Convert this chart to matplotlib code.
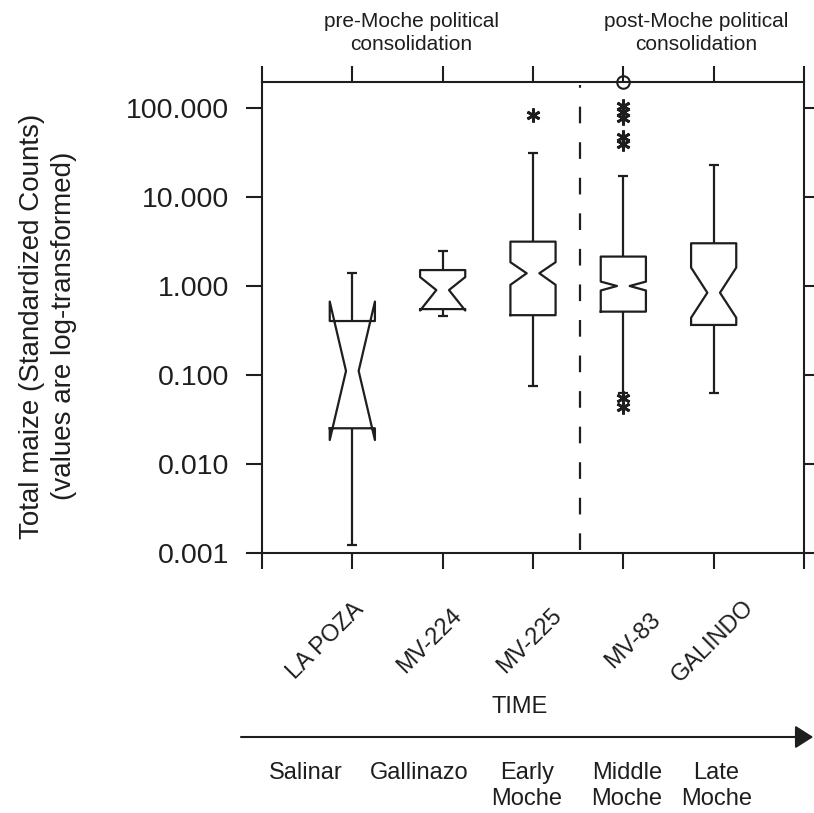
import matplotlib
matplotlib.use("Agg")
import matplotlib.pyplot as plt
import matplotlib.transforms as mtransforms
from matplotlib.patches import FancyArrowPatch
from matplotlib.ticker import FixedLocator, NullLocator

plt.rcParams['font.family'] = ['Liberation Sans', 'DejaVu Sans']

# box statistics (log-scaled counts)
sites = ["LA POZA", "MV-224", "MV-225", "MV-83", "GALINDO"]
periods = ["Salinar", "Gallinazo", "Early\nMoche", "Middle\nMoche", "Late\nMoche"]
whislo = [0.00123, 0.46, 0.076, 0.062, 0.062]
q1 = [0.0252, 0.55, 0.47, 0.515, 0.365]
med = [0.111, 0.90, 1.39, 1.0, 0.84]
q3 = [0.404, 1.51, 3.15, 2.14, 3.02]
whishi = [1.39, 2.45, 31.0, 17.0, 22.9]
cilo = [0.0186, 0.53, 1.03, 0.89, 0.44]
cihi = [0.668, 1.26, 1.85, 1.12, 1.61]
outliers = [[], [], [83.0], [104.0, 90.0, 77.0, 47.0, 39.0, 0.055, 0.044], []]
far_outliers = [[], [], [], [196.0], []]
ytick_vals = [0.001, 0.01, 0.1, 1, 10, 100]
split_at = 3.52

ink = '#1e1e1e'
lw = 1.6

fig = plt.figure(figsize=(8.14, 8.13), dpi=100)
ax = fig.add_axes([262/814, 1 - 553/813, (804 - 262)/814, (553 - 82)/813])

half_w = 0.25
waist = 0.07
cap = 0.055
for i, x in enumerate(range(1, len(sites) + 1)):
    bx = [x - half_w, x + half_w, x + half_w, x + waist, x + half_w, x + half_w,
          x - half_w, x - half_w, x - waist, x - half_w, x - half_w]
    by = [q1[i], q1[i], cilo[i], med[i], cihi[i], q3[i],
          q3[i], cihi[i], med[i], cilo[i], q1[i]]
    ax.plot(bx, by, color=ink, lw=lw)
    ax.vlines(x, q3[i], whishi[i], color=ink, lw=lw)
    ax.vlines(x, whislo[i], q1[i], color=ink, lw=lw)
    ax.hlines([whislo[i], whishi[i]], x - cap, x + cap, color=ink, lw=lw)
    if outliers[i]:
        ax.plot([x] * len(outliers[i]), outliers[i], ls='none', marker=(6, 2, 0),
                ms=10, mew=2, color=ink)
    if far_outliers[i]:
        ax.plot([x] * len(far_outliers[i]), far_outliers[i], ls='none', marker='o',
                ms=9, mew=1.5, mfc='none', mec=ink, clip_on=False, zorder=5)

ax.axvline(split_at, ymin=0.006, ymax=0.994, color=ink, lw=lw, ls=(0, (7.5, 8.5)))

ax.set_yscale('log')
ax.set_ylim(0.001, 10 ** 2.292)
ax.set_xlim(0, 6)
ax.yaxis.set_major_locator(FixedLocator(ytick_vals))
ax.yaxis.set_minor_locator(NullLocator())
ax.set_yticklabels(['%.3f' % v for v in ytick_vals])
ax.set_xticks(range(7))
ax.tick_params(which='both', direction='out', length=11.5, width=1.5, top=True,
               right=True, labelsize=20.5, pad=12, color=ink, labelcolor=ink)
ax.tick_params(axis='x', labelbottom=False)
for s in ax.spines.values():
    s.set_linewidth(1.5)
    s.set_color(ink)

# site labels under the axis
blend = mtransforms.blended_transform_factory(ax.transData, fig.transFigure)
label_dx = [-0.30, -0.14, -0.04, 0.11, -0.01]
for i, name in enumerate(sites):
    ax.text(i + 1 + label_dx[i], 1 - 641/813, name, rotation=45, ha='center',
            va='center', fontsize=17, color=ink, transform=blend)

fig.text(520/814, 1 - 707/813, 'TIME', fontsize=17, ha='center', va='center', color=ink)

arrow = FancyArrowPatch((241/814, 1 - 737/813), (0.999, 1 - 737/813),
                        transform=fig.transFigure, arrowstyle='-|>,head_length=1.1,head_width=0.7',
                        mutation_scale=10, lw=1.5, color=ink, shrinkA=0, shrinkB=0)
fig.add_artist(arrow)

period_x = [0.49, 1.74, 2.93, 4.04, 5.03]
for px, name in zip(period_x, periods):
    ax.text(px, 1 - 762/813, name, ha='center', va='top', fontsize=17,
            linespacing=1.25, color=ink, transform=blend)

fig.text(411/814, 1 - 33/813, 'pre-Moche political\nconsolidation', fontsize=15,
         ha='center', va='center', linespacing=1.3, color=ink)
fig.text(696/814, 1 - 33/813, 'post-Moche political\nconsolidation', fontsize=15,
         ha='center', va='center', linespacing=1.3, color=ink)

fig.text(48.5/814, 1 - 326/813, 'Total maize (Standardized Counts)\n(values are log-transformed)',
         rotation=90, ha='center', va='center', fontsize=20, linespacing=1.3,
         multialignment='center', color=ink)

fig.savefig('out.png', dpi=100)
